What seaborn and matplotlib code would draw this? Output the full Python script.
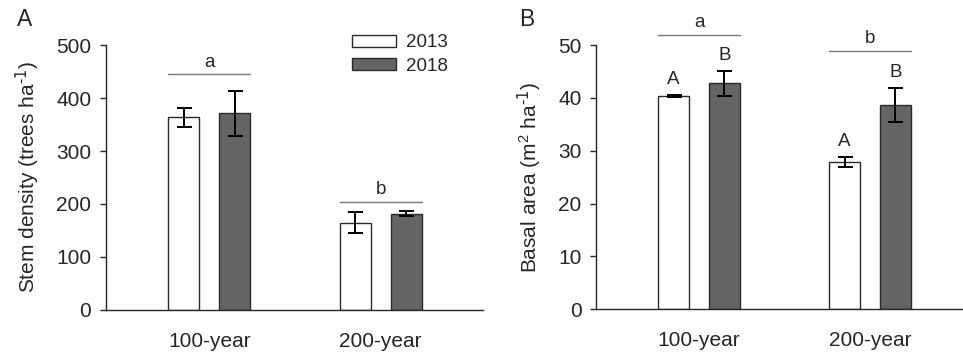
import numpy as np
import pandas as pd
import matplotlib
matplotlib.use("Agg")
import matplotlib.pyplot as plt
from matplotlib.container import BarContainer
import seaborn as sns

# data
stand_age = ["100-year", "200-year"]
years = ["2013", "2018"]

density_2013 = [364, 165]
density_2013_se = [18, 20]
density_2018 = [371, 182]
density_2018_se = [43, 4.5]
density_sig_y = [445, 204]
density_sig_letters = ["a", "b"]

basal_2013 = [40.4, 27.9]
basal_2013_se = [0.2, 0.9]
basal_2018 = [42.75, 38.7]
basal_2018_se = [2.3, 3.2]
basal_sig_y = [52.0, 48.9]
basal_sig_letters = ["a", "b"]
basal_bar_letters_2013 = ["A", "A"]
basal_bar_letters_2018 = ["B", "B"]

# style
sns.set_style("ticks")
plt.rcParams["font.family"] = ["Liberation Sans", "DejaVu Sans"]
plt.rcParams["mathtext.default"] = "regular"

palette = {"2013": "white", "2018": "#646464"}


def make_df(v13, v18):
    return pd.DataFrame({
        "age": stand_age * 2,
        "year": [years[0]] * 2 + [years[1]] * 2,
        "value": list(v13) + list(v18),
    })


def bars(ax):
    return [c for c in ax.containers if isinstance(c, BarContainer)]


def draw_panel(ax, df, se13, se18):
    sns.barplot(data=df, x="age", y="value", hue="year", palette=palette,
                order=stand_age, hue_order=years, width=0.596, gap=0.39,
                edgecolor="#2a2a2a", linewidth=1.0, errorbar=None,
                legend=False, ax=ax)
    # error bars from bar positions
    for cont, se in zip(bars(ax), [se13, se18]):
        xs = [p.get_x() + p.get_width() / 2 for p in cont.patches]
        ys = [p.get_height() for p in cont.patches]
        ax.errorbar(xs, ys, yerr=se, fmt="none", ecolor="black",
                    elinewidth=1.4, capsize=5.4, capthick=1.4, zorder=5)
    sns.despine(ax=ax)
    ax.spines["left"].set_linewidth(1.0)
    ax.spines["bottom"].set_linewidth(1.0)
    ax.tick_params(axis="y", direction="out", length=4.5, width=1,
                   labelsize=15, pad=6)
    ax.tick_params(axis="x", length=0, labelsize=15, pad=16)
    ax.set_xlabel("")


def group_brackets(ax, ys, letters):
    c13, c18 = [c.patches for c in bars(ax)]
    for i, (y, lab) in enumerate(zip(ys, letters)):
        x0 = c13[i].get_x()
        x1 = c18[i].get_x() + c18[i].get_width()
        ax.plot([x0, x1], [y, y], color="#777777", lw=1.0, clip_on=False)
        ax.annotate(lab, xy=((x0 + x1) / 2, y), xytext=(0, 5.5),
                    textcoords="offset points", ha="center", va="baseline",
                    fontsize=13.5, annotation_clip=False)


fig = plt.figure(figsize=(9.63, 3.55), dpi=100)
axA = fig.add_axes([0.110, 0.127, 0.3915, 0.746])
axB = fig.add_axes([0.619, 0.129, 0.381, 0.744])

# panel A
draw_panel(axA, make_df(density_2013, density_2018), density_2013_se, density_2018_se)
axA.set_ylim(0, 500)
axA.set_yticks([0, 100, 200, 300, 400, 500])
axA.set_xlim(-0.602, 1.596)
axA.set_ylabel("Stem density (trees ha$^{\\text{-1}}$)", fontsize=15, labelpad=10)
group_brackets(axA, density_sig_y, density_sig_letters)
handles = [c.patches[0] for c in bars(axA)]
axA.legend(handles, years, loc="upper left", bbox_to_anchor=(0.654, 1.04),
           frameon=False, fontsize=13.5, handlelength=2.3, handleheight=0.6,
           handletextpad=0.55, labelspacing=0.35, borderpad=0, borderaxespad=0)
fig.text(0.018, 0.945, "A", fontsize=16.5, ha="left", va="center")

# panel B
draw_panel(axB, make_df(basal_2013, basal_2018), basal_2013_se, basal_2018_se)
axB.set_ylim(0, 50)
axB.set_yticks([0, 10, 20, 30, 40, 50])
axB.set_xlim(-0.602, 1.544)
axB.set_ylabel("Basal area (m$^{2}$ ha$^{\\text{-1}}$)", fontsize=15, labelpad=10)
group_brackets(axB, basal_sig_y, basal_sig_letters)
for cont, se, labs in zip(bars(axB), [basal_2013_se, basal_2018_se],
                          [basal_bar_letters_2013, basal_bar_letters_2018]):
    for p, e, lab in zip(cont.patches, se, labs):
        axB.annotate(lab, xy=(p.get_x() + p.get_width() / 2, p.get_height() + e),
                     xytext=(0, 8), textcoords="offset points", ha="center",
                     va="baseline", fontsize=13.5, annotation_clip=False)
fig.text(0.539, 0.945, "B", fontsize=16.5, ha="left", va="center")

fig.savefig("out.png", dpi=100)
